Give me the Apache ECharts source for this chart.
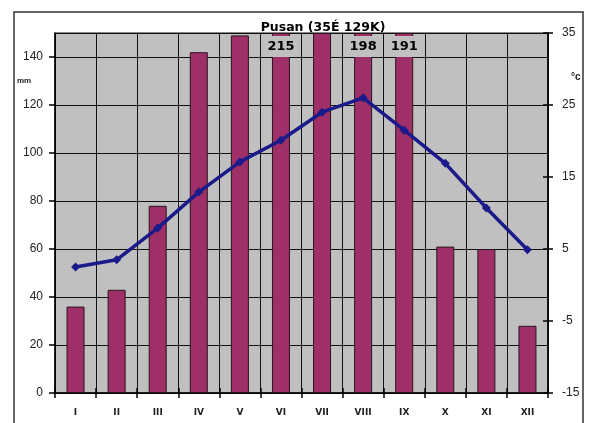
<!DOCTYPE html>
<html>
<head>
<meta charset="utf-8">
<script src="https://cdn.jsdelivr.net/npm/echarts@6/dist/echarts.min.js"></script>
<style>
html,body{margin:0;padding:0;background:#fff;}
#chart{width:590px;height:423px;}
</style>
</head>
<body>
<div id="chart"></div>
<script>
var months = ['I','II','III','IV','V','VI','VII','VIII','IX','X','XI','XII'];
var precipitation = [36, 43, 78, 142, 149, 215, 150, 198, 191, 61, 60, 28];
var temperature = [2.5, 3.5, 7.9, 12.9, 17.1, 20.1, 24.0, 26.0, 21.5, 16.9, 10.7, 4.9];
var mmMax = 150;
var tempMin = -15, tempMax = 35;

var chart = echarts.init(document.getElementById('chart'));

var barData = precipitation.map(function (v) {
  return {
    value: Math.min(v, mmMax),
    label: { show: v > mmMax, formatter: String(v) }
  };
});

var option = {
  animation: false,
  backgroundColor: '#ffffff',
  title: {
    text: 'Pusan (35É 129K)',
    left: 318, top: 16, textAlign: 'center',
    textStyle: { fontFamily: 'DejaVu Sans', fontSize: 12.5, fontWeight: 'bold', color: '#000' }
  },
  graphic: [
    { type: 'rect', shape: { x: 14, y: 12, width: 569, height: 430 }, style: { fill: 'none', stroke: '#333', lineWidth: 1.5 }, z: -1 },
    { type: 'text', left: 17, top: 77, style: { text: 'mm', fontFamily: 'Liberation Sans', fontSize: 8, fontWeight: 'bold', fill: '#222' } },
    { type: 'text', left: 571, top: 72, style: { text: '°c', fontFamily: 'Liberation Sans', fontSize: 10, fontWeight: 'bold', fill: '#222' } }
  ],
  grid: { left: 55, right: 42, top: 33, bottom: 30, show: true, backgroundColor: '#c0c0c0', borderColor: '#111', borderWidth: 1 },
  xAxis: [
    {
      type: 'category', data: months, boundaryGap: true,
      axisLine: { onZero: false, lineStyle: { color: '#000', width: 1.5 } },
      axisTick: { show: true, length: 5, lineStyle: { color: '#000', width: 1.5 } },
      axisLabel: { margin: 15, fontFamily: 'DejaVu Sans', fontSize: 9, fontWeight: 'bold', color: '#222' },
      splitLine: { show: true, lineStyle: { color: '#111', width: 1 } }
    },
    {
      type: 'category', data: months, boundaryGap: true, position: 'bottom', offset: 0,
      axisLine: { show: false, onZero: false },
      axisTick: { show: true, inside: true, length: 5, lineStyle: { color: '#000', width: 1.5 } },
      axisLabel: { show: false },
      splitLine: { show: false }
    }
  ],
  yAxis: [
    {
      type: 'value', min: 0, max: mmMax, interval: 20, position: 'left',
      axisLine: { show: true, lineStyle: { color: '#000', width: 1.5 } },
      axisTick: { show: true, length: 6, lineStyle: { color: '#000', width: 1.5 } },
      axisLabel: { margin: 12, showMaxLabel: false, fontFamily: 'Liberation Sans', fontSize: 12, color: '#222' },
      splitLine: { show: true, lineStyle: { color: '#111', width: 1 } }
    },
    {
      type: 'value', min: tempMin, max: tempMax, interval: 10, position: 'right',
      axisLine: { show: true, lineStyle: { color: '#000', width: 1.5 } },
      axisTick: { show: true, length: 5, lineStyle: { color: '#000', width: 1.5 } },
      axisLabel: { margin: 14, fontFamily: 'Liberation Sans', fontSize: 12, color: '#222' },
      splitLine: { show: false }
    },
    {
      type: 'value', min: tempMin, max: tempMax, interval: 10, position: 'right', offset: 0,
      axisLine: { show: false },
      axisTick: { show: true, inside: true, length: 5, lineStyle: { color: '#000', width: 1.5 } },
      axisLabel: { show: false },
      splitLine: { show: false }
    }
  ],
  series: [
    {
      type: 'bar', xAxisIndex: 0, yAxisIndex: 0, data: barData, barWidth: 18,
      itemStyle: { color: '#9e3067', borderColor: '#2a1420', borderWidth: 1 },
      label: {
        position: 'insideTop', distance: 3, padding: [4, 3, 4, 3],
        backgroundColor: '#c0c0c0', color: '#000',
        fontFamily: 'DejaVu Sans', fontSize: 13, fontWeight: 'bold'
      }
    },
    {
      type: 'line', xAxisIndex: 0, yAxisIndex: 1, data: temperature,
      symbol: 'diamond', symbolSize: 9,
      lineStyle: { color: '#1a1a8a', width: 3.5 },
      itemStyle: { color: '#1a1a8a' }
    }
  ]
};
chart.setOption(option);
</script>
</body>
</html>
